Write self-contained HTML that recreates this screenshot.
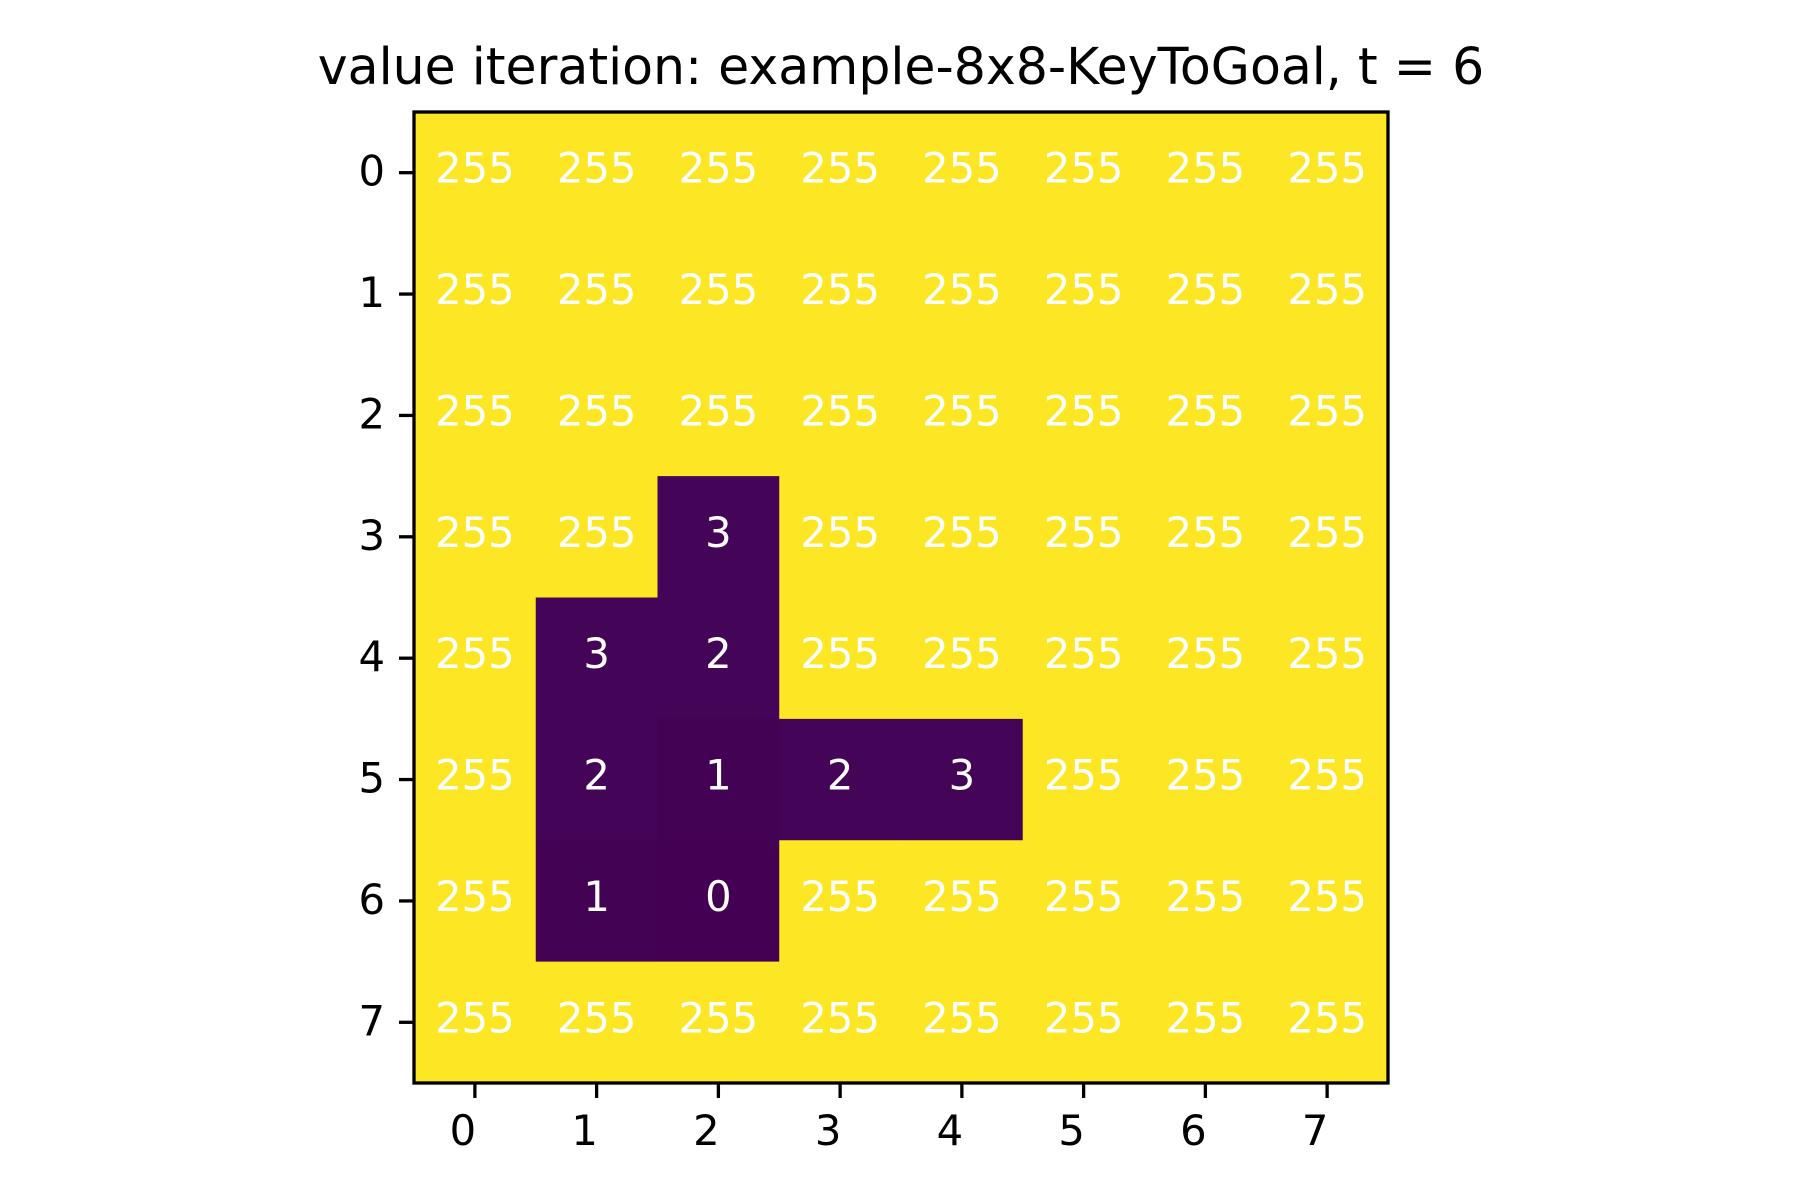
<!DOCTYPE html>
<html><head><meta charset="utf-8"><style>
html,body{margin:0;padding:0;background:#fff;}
svg{display:block;font-family:"DejaVu Sans","Liberation Sans",sans-serif;}
</style></head><body>
<svg id="chart" width="1800" height="1200" viewBox="0 0 1800 1200">
<rect width="1800" height="1200" fill="#fff"/>
<text x="901" y="84" font-size="50.5" text-anchor="middle" fill="#000">value iteration: example-8x8-KeyToGoal, t = 6</text>
<g id="cells"></g>
<g id="axes"></g>
</svg>
<script>
const rowLabels = ["0","1","2","3","4","5","6","7"];
const colLabels = ["0","1","2","3","4","5","6","7"];
const values = [
  [255,255,255,255,255,255,255,255],
  [255,255,255,255,255,255,255,255],
  [255,255,255,255,255,255,255,255],
  [255,255,3,255,255,255,255,255],
  [255,3,2,255,255,255,255,255],
  [255,2,1,2,3,255,255,255],
  [255,1,0,255,255,255,255,255],
  [255,255,255,255,255,255,255,255]
];
const vmin = 0, vmax = 255;

const NS = "http://www.w3.org/2000/svg";
const X0 = 414, X1 = 1388, Y0 = 112, Y1 = 1083;
const nC = colLabels.length, nR = rowLabels.length;
const cw = (X1 - X0) / nC, ch = (Y1 - Y0) / nR;
function xs(c){ return X0 + c * cw; }
function ys(r){ return Y0 + r * ch; }

const vir = [[68,1,84],[72,40,120],[62,74,137],[49,104,142],[38,130,142],[31,158,137],[53,183,121],[109,205,89],[180,222,44],[253,231,37]];
function color(v){
  let t = (v - vmin) / (vmax - vmin);
  t = Math.max(0, Math.min(1, t)) * (vir.length - 1);
  const i = Math.min(vir.length - 2, Math.floor(t)), f = t - i;
  const c = vir[i].map((a, k) => Math.round(a + (vir[i+1][k] - a) * f));
  return "rgb(" + c.join(",") + ")";
}

const cells = document.getElementById("cells");
for (let r = 0; r < nR; r++) {
  for (let c = 0; c < nC; c++) {
    const v = values[r][c];
    const rect = document.createElementNS(NS, "rect");
    rect.setAttribute("x", xs(c));
    rect.setAttribute("y", ys(r));
    rect.setAttribute("width", cw + 0.5);
    rect.setAttribute("height", ch + 0.5);
    rect.setAttribute("fill", color(v));
    
    
    cells.appendChild(rect);
    const t = document.createElementNS(NS, "text");
    t.setAttribute("x", xs(c) + cw / 2);
    t.setAttribute("y", ys(r) + ch / 2 + 10);
    t.setAttribute("text-anchor", "middle");
    t.setAttribute("font-size", "41.7");
    t.setAttribute("fill", "#fff");
    t.textContent = String(v);
    
    
    cells.appendChild(t);
  }
}

const axes = document.getElementById("axes");
const frame = document.createElementNS(NS, "rect");
frame.setAttribute("x", X0); frame.setAttribute("y", Y0);
frame.setAttribute("width", X1 - X0); frame.setAttribute("height", Y1 - Y0);
frame.setAttribute("fill", "none"); frame.setAttribute("stroke", "#000"); frame.setAttribute("stroke-width", "3.3");


axes.appendChild(frame);

colLabels.forEach((lab, c) => {
  const x = xs(c) + cw / 2;
  const l = document.createElementNS(NS, "line");
  l.setAttribute("x1", x); l.setAttribute("x2", x);
  l.setAttribute("y1", Y1); l.setAttribute("y2", Y1 + 15);
  l.setAttribute("stroke", "#000"); l.setAttribute("stroke-width", "3.3");
  
  
  axes.appendChild(l);
  const t = document.createElementNS(NS, "text");
  t.setAttribute("x", x - 12); t.setAttribute("y", Y1 + 62);
  t.setAttribute("text-anchor", "middle"); t.setAttribute("font-size", "41.7");
  t.textContent = lab;
  
  
  axes.appendChild(t);
});
rowLabels.forEach((lab, r) => {
  const y = ys(r) + ch / 2;
  const l = document.createElementNS(NS, "line");
  l.setAttribute("x1", X0 - 15); l.setAttribute("x2", X0);
  l.setAttribute("y1", y); l.setAttribute("y2", y);
  l.setAttribute("stroke", "#000"); l.setAttribute("stroke-width", "3.3");
  
  
  axes.appendChild(l);
  const t = document.createElementNS(NS, "text");
  t.setAttribute("x", X0 - 29); t.setAttribute("y", y + 13);
  t.setAttribute("text-anchor", "end"); t.setAttribute("font-size", "41.7");
  t.textContent = lab;
  
  
  axes.appendChild(t);
});
</script>
</body></html>
